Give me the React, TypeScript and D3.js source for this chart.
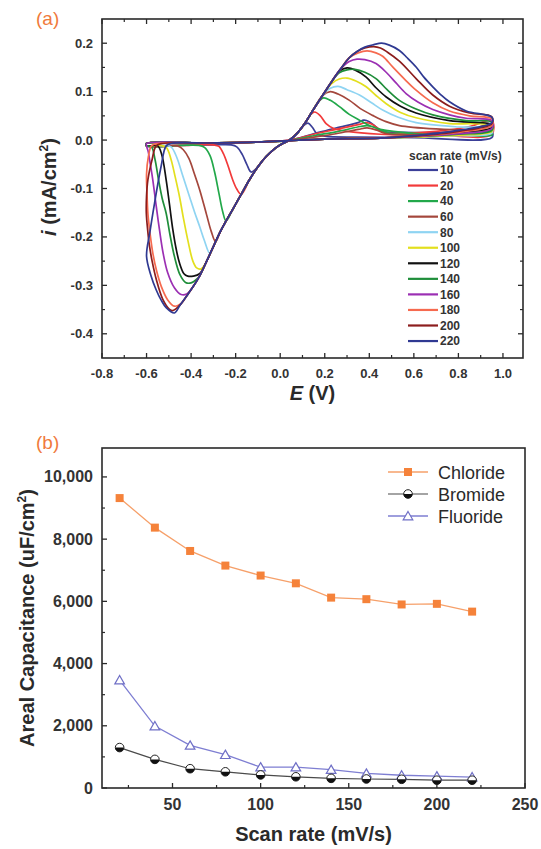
import React from "react";
import * as d3 from "d3";

type Pt = [number, number];

// ---- panel (a): cyclic voltammograms, points are [E (V), i (mA/cm2)] ----
const cvRates = [10, 20, 40, 60, 80, 100, 120, 140, 160, 180, 200, 220];
const cvColors = ["#3b3f98", "#f23a3a", "#22a84a", "#a4473c", "#8fd4f2", "#e3df1e",
  "#111111", "#1f8e3a", "#9b2fb3", "#f66a4f", "#8c1d1d", "#2f3992"];

const cv10: Pt[] = [[-0.6,-0.012],[-0.45,-0.011],[-0.3,-0.01],[-0.22,-0.01],[-0.195,-0.014],[-0.17,-0.03],[-0.15,-0.05],[-0.13,-0.066],
  [-0.1,-0.055],[-0.063,-0.034],[-0.02,-0.016],[0.011,-0.007],[0.042,0],[0.08,0.016],[0.105,0.03],[0.125,0.035],[0.145,0.026],[0.165,0.013],
  [0.2,0.008],[0.35,0.006],[0.6,0.005],[0.95,0.005],
  [0.95,0.018],[0.75,0.016],[0.55,0.016],[0.46,0.018],[0.43,0.027],[0.4,0.038],[0.375,0.041],[0.35,0.036],[0.25,0.025],[0.15,0.013],
  [0.042,0],[-0.1,-0.004],[-0.35,-0.006],[-0.6,-0.007]];

const cv20: Pt[] = [[-0.6,-0.012],[-0.45,-0.011],[-0.3,-0.01],[-0.275,-0.013],[-0.255,-0.028],[-0.235,-0.052],[-0.215,-0.08],[-0.195,-0.101],
  [-0.175,-0.112],[-0.138,-0.082],[-0.1,-0.055],[-0.063,-0.034],[-0.02,-0.016],[0.011,-0.007],[0.042,0],[0.08,0.016],[0.11,0.034],[0.135,0.052],
  [0.155,0.058],[0.18,0.05],[0.206,0.034],[0.24,0.024],[0.3,0.018],[0.45,0.012],[0.7,0.01],[0.95,0.012],
  [0.95,0.04],[0.85,0.028],[0.7,0.018],[0.55,0.014],[0.47,0.015],[0.44,0.024],[0.41,0.033],[0.385,0.036],[0.36,0.033],[0.25,0.022],
  [0.15,0.012],[0.042,0],[-0.1,-0.004],[-0.35,-0.006],[-0.6,-0.007]];

const cv40: Pt[] = [[-0.6,-0.012],[-0.45,-0.011],[-0.365,-0.011],[-0.34,-0.015],[-0.315,-0.032],[-0.295,-0.065],[-0.275,-0.11],[-0.258,-0.148],
  [-0.243,-0.167],[-0.213,-0.143],[-0.175,-0.112],[-0.138,-0.082],[-0.1,-0.055],[-0.063,-0.034],[-0.02,-0.016],[0.011,-0.007],[0.042,0],
  [0.08,0.016],[0.11,0.034],[0.145,0.06],[0.17,0.078],[0.195,0.087],[0.225,0.082],[0.266,0.069],[0.31,0.053],[0.356,0.041],[0.4,0.03],
  [0.45,0.022],[0.6,0.014],[0.8,0.011],[0.95,0.01],
  [0.95,0.016],[0.75,0.013],[0.5,0.013],[0.45,0.02],[0.42,0.027],[0.39,0.03],[0.36,0.028],[0.25,0.017],[0.15,0.009],[0.042,-0.001],
  [-0.1,-0.004],[-0.35,-0.006],[-0.6,-0.007]];

const cv60: Pt[] = [[-0.6,-0.012],[-0.5,-0.011],[-0.46,-0.012],[-0.435,-0.02],[-0.41,-0.038],[-0.385,-0.07],[-0.36,-0.105],[-0.33,-0.155],
  [-0.31,-0.188],[-0.29,-0.21],[-0.27,-0.19],[-0.243,-0.167],[-0.213,-0.143],[-0.175,-0.112],[-0.138,-0.082],[-0.1,-0.055],[-0.063,-0.034],
  [-0.02,-0.016],[0.011,-0.007],[0.042,0],[0.08,0.016],[0.11,0.034],[0.145,0.06],[0.19,0.092],[0.225,0.1],[0.26,0.095],[0.311,0.082],
  [0.36,0.065],[0.415,0.051],[0.475,0.038],[0.535,0.03],[0.7,0.023],[0.85,0.021],[0.95,0.022],
  [0.95,0.032],[0.85,0.022],[0.7,0.014],[0.52,0.011],[0.47,0.014],[0.43,0.021],[0.39,0.025],[0.35,0.022],[0.25,0.013],[0.15,0.006],
  [0.042,-0.001],[-0.1,-0.004],[-0.35,-0.006],[-0.6,-0.007]];

const cv80: Pt[] = [[-0.6,-0.012],[-0.52,-0.011],[-0.49,-0.014],[-0.465,-0.035],[-0.44,-0.07],[-0.407,-0.117],[-0.385,-0.148],[-0.362,-0.178],
  [-0.34,-0.208],[-0.317,-0.233],[-0.3,-0.22],[-0.27,-0.19],[-0.243,-0.167],[-0.213,-0.143],[-0.175,-0.112],[-0.138,-0.082],[-0.1,-0.055],
  [-0.063,-0.034],[-0.02,-0.016],[0.011,-0.007],[0.042,0],[0.08,0.016],[0.11,0.034],[0.145,0.06],[0.19,0.092],[0.225,0.107],[0.26,0.111],
  [0.3,0.104],[0.356,0.093],[0.41,0.077],[0.46,0.062],[0.53,0.047],[0.61,0.036],[0.8,0.027],[0.95,0.024],
  [0.95,0.014],[0.8,0.009],[0.6,0.006],[0.45,0.004],[0.2,0.002],[0.042,-0.001],[-0.1,-0.004],[-0.35,-0.006],[-0.6,-0.007]];

const cv100: Pt[] = [[-0.6,-0.012],[-0.535,-0.011],[-0.51,-0.016],[-0.49,-0.04],[-0.472,-0.075],[-0.452,-0.117],[-0.435,-0.16],[-0.415,-0.206],
  [-0.392,-0.25],[-0.375,-0.264],[-0.355,-0.266],[-0.335,-0.254],[-0.3,-0.22],[-0.27,-0.19],[-0.243,-0.167],[-0.213,-0.143],[-0.175,-0.112],
  [-0.138,-0.082],[-0.1,-0.055],[-0.063,-0.034],[-0.02,-0.016],[0.011,-0.007],[0.042,0],[0.08,0.016],[0.11,0.034],[0.145,0.06],[0.19,0.092],
  [0.23,0.116],[0.265,0.126],[0.3,0.128],[0.34,0.122],[0.386,0.11],[0.43,0.092],[0.476,0.075],[0.54,0.057],[0.61,0.046],[0.76,0.034],[0.95,0.03],
  [0.95,0.018],[0.8,0.01],[0.6,0.006],[0.45,0.004],[0.2,0.002],[0.042,-0.001],[-0.1,-0.004],[-0.35,-0.006],[-0.6,-0.007]];

const cv120: Pt[] = [[-0.6,-0.012],[-0.55,-0.012],[-0.532,-0.03],[-0.512,-0.082],[-0.497,-0.133],[-0.482,-0.185],[-0.467,-0.225],[-0.452,-0.254],
  [-0.432,-0.276],[-0.415,-0.281],[-0.39,-0.281],[-0.362,-0.276],[-0.33,-0.25],[-0.3,-0.22],[-0.27,-0.19],[-0.243,-0.167],[-0.213,-0.143],
  [-0.175,-0.112],[-0.138,-0.082],[-0.1,-0.055],[-0.063,-0.034],[-0.02,-0.016],[0.011,-0.007],[0.042,0],[0.08,0.016],[0.11,0.034],[0.145,0.06],
  [0.19,0.092],[0.23,0.12],[0.265,0.142],[0.3,0.149],[0.335,0.145],[0.386,0.13],[0.43,0.108],[0.476,0.089],[0.54,0.07],[0.61,0.056],[0.76,0.04],
  [0.95,0.032],
  [0.95,0.026],[0.8,0.015],[0.6,0.008],[0.45,0.004],[0.2,0.002],[0.042,-0.001],[-0.1,-0.004],[-0.35,-0.006],[-0.6,-0.007]];

const cv140: Pt[] = [[-0.6,-0.012],[-0.578,-0.014],[-0.562,-0.04],[-0.545,-0.085],[-0.53,-0.12],[-0.512,-0.151],[-0.495,-0.195],[-0.475,-0.24],
  [-0.45,-0.278],[-0.425,-0.294],[-0.4,-0.295],[-0.375,-0.287],[-0.362,-0.281],[-0.33,-0.25],[-0.3,-0.22],[-0.27,-0.19],[-0.243,-0.167],
  [-0.213,-0.143],[-0.175,-0.112],[-0.138,-0.082],[-0.1,-0.055],[-0.063,-0.034],[-0.02,-0.016],[0.011,-0.007],[0.042,0],[0.08,0.016],
  [0.11,0.034],[0.145,0.06],[0.19,0.092],[0.23,0.12],[0.265,0.139],[0.3,0.145],[0.335,0.146],[0.38,0.14],[0.43,0.127],[0.48,0.104],
  [0.535,0.082],[0.61,0.064],[0.685,0.052],[0.835,0.04],[0.95,0.037],
  [0.95,0.02],[0.8,0.012],[0.6,0.007],[0.45,0.004],[0.2,0.002],[0.042,-0.001],[-0.1,-0.004],[-0.35,-0.006],[-0.6,-0.007]];

const cv160: Pt[] = [[-0.6,-0.012],[-0.592,-0.025],[-0.583,-0.05],[-0.572,-0.082],[-0.557,-0.135],[-0.542,-0.185],[-0.525,-0.235],[-0.505,-0.274],
  [-0.475,-0.305],[-0.445,-0.319],[-0.42,-0.318],[-0.39,-0.302],[-0.362,-0.281],[-0.33,-0.25],[-0.3,-0.22],[-0.27,-0.19],[-0.243,-0.167],
  [-0.213,-0.143],[-0.175,-0.112],[-0.138,-0.082],[-0.1,-0.055],[-0.063,-0.034],[-0.02,-0.016],[0.011,-0.007],[0.042,0],[0.08,0.016],
  [0.11,0.034],[0.145,0.06],[0.19,0.092],[0.23,0.12],[0.27,0.146],[0.31,0.162],[0.345,0.167],[0.38,0.166],[0.43,0.158],[0.48,0.138],
  [0.52,0.118],[0.565,0.096],[0.62,0.078],[0.685,0.063],[0.76,0.052],[0.835,0.045],[0.95,0.04],
  [0.95,0.024],[0.8,0.013],[0.6,0.007],[0.45,0.004],[0.2,0.002],[0.042,-0.001],[-0.1,-0.004],[-0.35,-0.006],[-0.6,-0.007]];

const cv180: Pt[] = [[-0.6,-0.07],[-0.598,-0.11],[-0.594,-0.151],[-0.585,-0.19],[-0.572,-0.233],[-0.555,-0.27],[-0.534,-0.302],[-0.505,-0.33],
  [-0.475,-0.343],[-0.45,-0.339],[-0.42,-0.322],[-0.39,-0.302],[-0.362,-0.281],[-0.33,-0.25],[-0.3,-0.22],[-0.27,-0.19],[-0.243,-0.167],
  [-0.213,-0.143],[-0.175,-0.112],[-0.138,-0.082],[-0.1,-0.055],[-0.063,-0.034],[-0.02,-0.016],[0.011,-0.007],[0.042,0],[0.08,0.016],
  [0.11,0.034],[0.145,0.06],[0.19,0.092],[0.23,0.12],[0.27,0.146],[0.31,0.17],[0.35,0.18],[0.39,0.184],[0.43,0.18],[0.46,0.173],
  [0.505,0.151],[0.56,0.125],[0.61,0.103],[0.685,0.077],[0.76,0.06],[0.85,0.05],[0.95,0.044],
  [0.95,0.03],[0.8,0.016],[0.6,0.008],[0.45,0.004],[0.2,0.002],[0.042,-0.001],[-0.1,-0.004],[-0.35,-0.006],[-0.55,-0.007],
  [-0.578,-0.012],[-0.592,-0.035]];

const cv200: Pt[] = [[-0.601,-0.151],[-0.594,-0.19],[-0.588,-0.215],[-0.575,-0.25],[-0.555,-0.29],[-0.527,-0.329],[-0.498,-0.349],[-0.482,-0.352],
  [-0.45,-0.341],[-0.42,-0.322],[-0.39,-0.302],[-0.362,-0.281],[-0.33,-0.25],[-0.3,-0.22],[-0.27,-0.19],[-0.243,-0.167],[-0.213,-0.143],
  [-0.175,-0.112],[-0.138,-0.082],[-0.1,-0.055],[-0.063,-0.034],[-0.02,-0.016],[0.011,-0.007],[0.042,0],[0.08,0.016],[0.11,0.034],
  [0.145,0.06],[0.19,0.092],[0.23,0.12],[0.27,0.146],[0.31,0.17],[0.345,0.183],[0.38,0.19],[0.42,0.193],[0.45,0.19],[0.48,0.182],
  [0.535,0.163],[0.61,0.127],[0.685,0.093],[0.76,0.07],[0.85,0.056],[0.95,0.048],
  [0.95,0.034],[0.8,0.018],[0.6,0.008],[0.45,0.004],[0.2,0.002],[0.042,-0.001],[-0.1,-0.004],[-0.35,-0.006],[-0.53,-0.007],
  [-0.557,-0.012],[-0.575,-0.04],[-0.594,-0.082],[-0.6,-0.115]];

const cv220: Pt[] = [[-0.6,-0.24],[-0.58,-0.28],[-0.557,-0.309],[-0.535,-0.33],[-0.512,-0.346],[-0.475,-0.357],[-0.45,-0.341],[-0.42,-0.322],
  [-0.39,-0.302],[-0.362,-0.281],[-0.33,-0.25],[-0.3,-0.22],[-0.27,-0.19],[-0.243,-0.167],[-0.213,-0.143],[-0.175,-0.112],[-0.138,-0.082],
  [-0.1,-0.055],[-0.063,-0.034],[-0.02,-0.016],[0.011,-0.007],[0.042,0],[0.08,0.016],[0.11,0.034],[0.145,0.06],[0.19,0.092],[0.23,0.12],
  [0.27,0.146],[0.31,0.17],[0.345,0.183],[0.38,0.192],[0.42,0.197],[0.455,0.2],[0.49,0.196],[0.535,0.185],[0.57,0.17],[0.61,0.151],
  [0.645,0.13],[0.685,0.11],[0.72,0.094],[0.76,0.079],[0.835,0.06],[0.95,0.047],
  [0.95,0.036],[0.8,0.02],[0.6,0.009],[0.45,0.004],[0.2,0.002],[0.042,-0.001],[-0.1,-0.004],[-0.3,-0.006],[-0.49,-0.007],
  [-0.512,-0.012],[-0.535,-0.055],[-0.564,-0.13],[-0.585,-0.19]];

const cvLoops = [cv10, cv20, cv40, cv60, cv80, cv100, cv120, cv140, cv160, cv180, cv200, cv220];

const aXMajor = [-0.8, -0.6, -0.4, -0.2, 0, 0.2, 0.4, 0.6, 0.8, 1.0];
const aXMinor = [-0.7, -0.5, -0.3, -0.1, 0.1, 0.3, 0.5, 0.7, 0.9];
const aYMajor = [-0.4, -0.3, -0.2, -0.1, 0, 0.1, 0.2];
const aYMinor = [-0.35, -0.25, -0.15, -0.05, 0.05, 0.15];

// ---- panel (b): areal capacitance vs scan rate ----
const scanRate = [20, 40, 60, 80, 100, 120, 140, 160, 180, 200, 220];
const chloride = [9320, 8370, 7620, 7150, 6830, 6580, 6120, 6070, 5900, 5920, 5670];
const bromide = [1300, 920, 620, 520, 420, 360, 310, 290, 280, 250, 250];
const fluoride = [3470, 1990, 1370, 1070, 670, 670, 590, 470, 410, 380, 350];
const bXMajor = [50, 100, 150, 200, 250];
const bXMinor = [25, 75, 125, 175, 225];
const bYMajor = [0, 2000, 4000, 6000, 8000, 10000];
const bYMinor = [1000, 3000, 5000, 7000, 9000];

const FONT = "'Liberation Sans', Arial, Helvetica, sans-serif";
const INK = "#2a2a2a";
const LABEL = "#333";
const ORANGE_TAG = "#f07a3c";

function PanelA() {
  const L = 102, R = 523, T = 19, B = 358;
  const x = d3.scaleLinear().domain([-0.8, 1.09]).range([L, R]);
  const y = d3.scaleLinear().domain([-0.45, 0.25]).range([B, T]);
  const line = d3.line<Pt>().x(d => x(d[0])).y(d => y(d[1])).curve(d3.curveCatmullRomClosed.alpha(0.5));
  const fmt = (v: number) => v.toFixed(1);
  const legY0 = 170, legDy = 15.55;

  return (
    <g>
      <text x={36} y={25} fontFamily={FONT} fontSize={19} fill={ORANGE_TAG}>(a)</text>
      {cvLoops.map((pts, k) => (
        <path key={k} d={line(pts) || ""} fill="none" stroke={cvColors[k]} strokeWidth={1.7} strokeLinejoin="round" />
      ))}
      <rect x={L} y={T} width={R - L} height={B - T} fill="none" stroke={INK} strokeWidth={1.6} />
      {aXMajor.map(v => (
        <g key={"xm" + v}>
          <line x1={x(v)} x2={x(v)} y1={B} y2={B - 5} stroke={INK} strokeWidth={1.3} />
          <line x1={x(v)} x2={x(v)} y1={T} y2={T + 5} stroke={INK} strokeWidth={1.3} />
          <text x={x(v)} y={378} textAnchor="middle" fontFamily={FONT} fontWeight="bold" fontSize={13} fill={LABEL}>{fmt(v)}</text>
        </g>
      ))}
      {aXMinor.map(v => (
        <g key={"xn" + v}>
          <line x1={x(v)} x2={x(v)} y1={B} y2={B - 3} stroke={INK} strokeWidth={1.2} />
          <line x1={x(v)} x2={x(v)} y1={T} y2={T + 3} stroke={INK} strokeWidth={1.2} />
        </g>
      ))}
      {aYMajor.map(v => (
        <g key={"ym" + v}>
          <line x1={L} x2={L + 5} y1={y(v)} y2={y(v)} stroke={INK} strokeWidth={1.3} />
          <line x1={R} x2={R - 5} y1={y(v)} y2={y(v)} stroke={INK} strokeWidth={1.3} />
          <text x={93} y={y(v) + 4.5} textAnchor="end" fontFamily={FONT} fontWeight="bold" fontSize={13} fill={LABEL}>{fmt(v)}</text>
        </g>
      ))}
      {aYMinor.map(v => (
        <g key={"yn" + v}>
          <line x1={L} x2={L + 3} y1={y(v)} y2={y(v)} stroke={INK} strokeWidth={1.2} />
          <line x1={R} x2={R - 3} y1={y(v)} y2={y(v)} stroke={INK} strokeWidth={1.2} />
        </g>
      ))}
      <text x={(L + R) / 2} y={400} textAnchor="middle" fontFamily={FONT} fontWeight="bold" fontSize={20} fill={INK}>
        <tspan fontStyle="italic">E</tspan> (V)
      </text>
      <text transform="translate(56,187) rotate(-90)" textAnchor="middle" fontFamily={FONT} fontWeight="bold" fontSize={20} fill={INK}>
        <tspan fontStyle="italic">i</tspan> (mA/cm<tspan fontSize={12} dy={-8}>2</tspan><tspan dy={8}>)</tspan>
      </text>
      <text x={409} y={160} fontFamily={FONT} fontWeight="bold" fontSize={12} fill={LABEL}>scan rate (mV/s)</text>
      {cvRates.map((r, k) => (
        <g key={"lg" + r}>
          <line x1={408} x2={438} y1={legY0 + k * legDy} y2={legY0 + k * legDy} stroke={cvColors[k]} strokeWidth={2.2} />
          <text x={440} y={legY0 + k * legDy + 4.3} fontFamily={FONT} fontWeight="bold" fontSize={12} fill={LABEL}>{r}</text>
        </g>
      ))}
    </g>
  );
}

function PanelB() {
  const L = 102, R = 525, T = 448, B = 788;
  const x = d3.scaleLinear().domain([10, 250]).range([L, R]);
  const y = d3.scaleLinear().domain([0, 10930]).range([B, T]);
  const mk = (vals: number[]) => d3.line<number>().x((_, i) => x(scanRate[i])).y(v => y(v))(vals) || "";
  const fmt = d3.format(",");
  const square = d3.symbol(d3.symbolSquare, 64)() || "";
  const tri = d3.symbol(d3.symbolTriangle, 40)() || "";
  const halfDisc = "M-4.3,0A4.3,4.3 0 0 0 4.3,0Z";
  const legX = 388, legRows = [472, 494, 516];

  return (
    <g>
      <text x={36} y={449} fontFamily={FONT} fontSize={19} fill={ORANGE_TAG}>(b)</text>
      <rect x={L} y={T} width={R - L} height={B - T} fill="none" stroke={INK} strokeWidth={1.6} />
      {bXMajor.map(v => (
        <g key={"bxm" + v}>
          <line x1={x(v)} x2={x(v)} y1={B} y2={B - 5} stroke={INK} strokeWidth={1.3} />
          <text x={x(v)} y={810} textAnchor="middle" fontFamily={FONT} fontWeight="bold" fontSize={16} fill={LABEL}>{v}</text>
        </g>
      ))}
      {bXMinor.map(v => (
        <line key={"bxn" + v} x1={x(v)} x2={x(v)} y1={B} y2={B - 3} stroke={INK} strokeWidth={1.2} />
      ))}
      {bYMajor.map(v => (
        <g key={"bym" + v}>
          <line x1={L} x2={L + 5} y1={y(v)} y2={y(v)} stroke={INK} strokeWidth={1.3} />
          <text x={93} y={y(v) + 5.5} textAnchor="end" fontFamily={FONT} fontWeight="bold" fontSize={16} fill={LABEL}>{fmt(v)}</text>
        </g>
      ))}
      {bYMinor.map(v => (
        <line key={"byn" + v} x1={L} x2={L + 3} y1={y(v)} y2={y(v)} stroke={INK} strokeWidth={1.2} />
      ))}

      <path d={mk(chloride)} fill="none" stroke="#f6a06a" strokeWidth={1.3} />
      <path d={mk(fluoride)} fill="none" stroke="#7e7ed2" strokeWidth={1.3} />
      <path d={mk(bromide)} fill="none" stroke="#4a4a4a" strokeWidth={1.2} />
      {chloride.map((v, i) => (
        <path key={"c" + i} d={square} transform={`translate(${x(scanRate[i])},${y(v)})`} fill="#f5823a" />
      ))}
      {fluoride.map((v, i) => (
        <path key={"f" + i} d={tri} transform={`translate(${x(scanRate[i])},${y(v) + 1})`} fill="#fff" stroke="#6f6fc6" strokeWidth={1.2} />
      ))}
      {bromide.map((v, i) => (
        <g key={"b" + i} transform={`translate(${x(scanRate[i])},${y(v)})`}>
          <circle r={4.3} fill="#fff" stroke="#222" strokeWidth={1} />
          <path d={halfDisc} fill="#111" />
        </g>
      ))}

      <g>
        <line x1={legX} x2={legX + 40} y1={legRows[0]} y2={legRows[0]} stroke="#f6a06a" strokeWidth={1.3} />
        <path d={square} transform={`translate(${legX + 20},${legRows[0]})`} fill="#f5823a" />
        <text x={438} y={legRows[0] + 6.5} fontFamily={FONT} fontSize={18} fill={INK}>Chloride</text>
        <line x1={legX} x2={legX + 40} y1={legRows[1]} y2={legRows[1]} stroke="#4a4a4a" strokeWidth={1.2} />
        <g transform={`translate(${legX + 20},${legRows[1]})`}>
          <circle r={4.3} fill="#fff" stroke="#222" strokeWidth={1} />
          <path d={halfDisc} fill="#111" />
        </g>
        <text x={438} y={legRows[1] + 6.5} fontFamily={FONT} fontSize={18} fill={INK}>Bromide</text>
        <line x1={legX} x2={legX + 40} y1={legRows[2]} y2={legRows[2]} stroke="#7e7ed2" strokeWidth={1.3} />
        <path d={tri} transform={`translate(${legX + 20},${legRows[2] + 1})`} fill="#fff" stroke="#6f6fc6" strokeWidth={1.2} />
        <text x={438} y={legRows[2] + 6.5} fontFamily={FONT} fontSize={18} fill={INK}>Fluoride</text>
      </g>

      <text x={(L + R) / 2} y={841} textAnchor="middle" fontFamily={FONT} fontWeight="bold" fontSize={20} fill={INK}>Scan rate (mV/s)</text>
      <text transform={`translate(34,${(T + B) / 2}) rotate(-90)`} textAnchor="middle" fontFamily={FONT} fontWeight="bold" fontSize={20} fill={INK}>
        Areal Capacitance (uF/cm<tspan fontSize={12} dy={-8}>2</tspan><tspan dy={8}>)</tspan>
      </text>
    </g>
  );
}

export default function App() {
  return (
    <svg width={541} height={849} viewBox="0 0 541 849"
      style={{ position: "absolute", left: 0, top: 0, background: "#fff" }}>
      <rect width={541} height={849} fill="#fff" />
      <PanelA />
      <PanelB />
    </svg>
  );
}
